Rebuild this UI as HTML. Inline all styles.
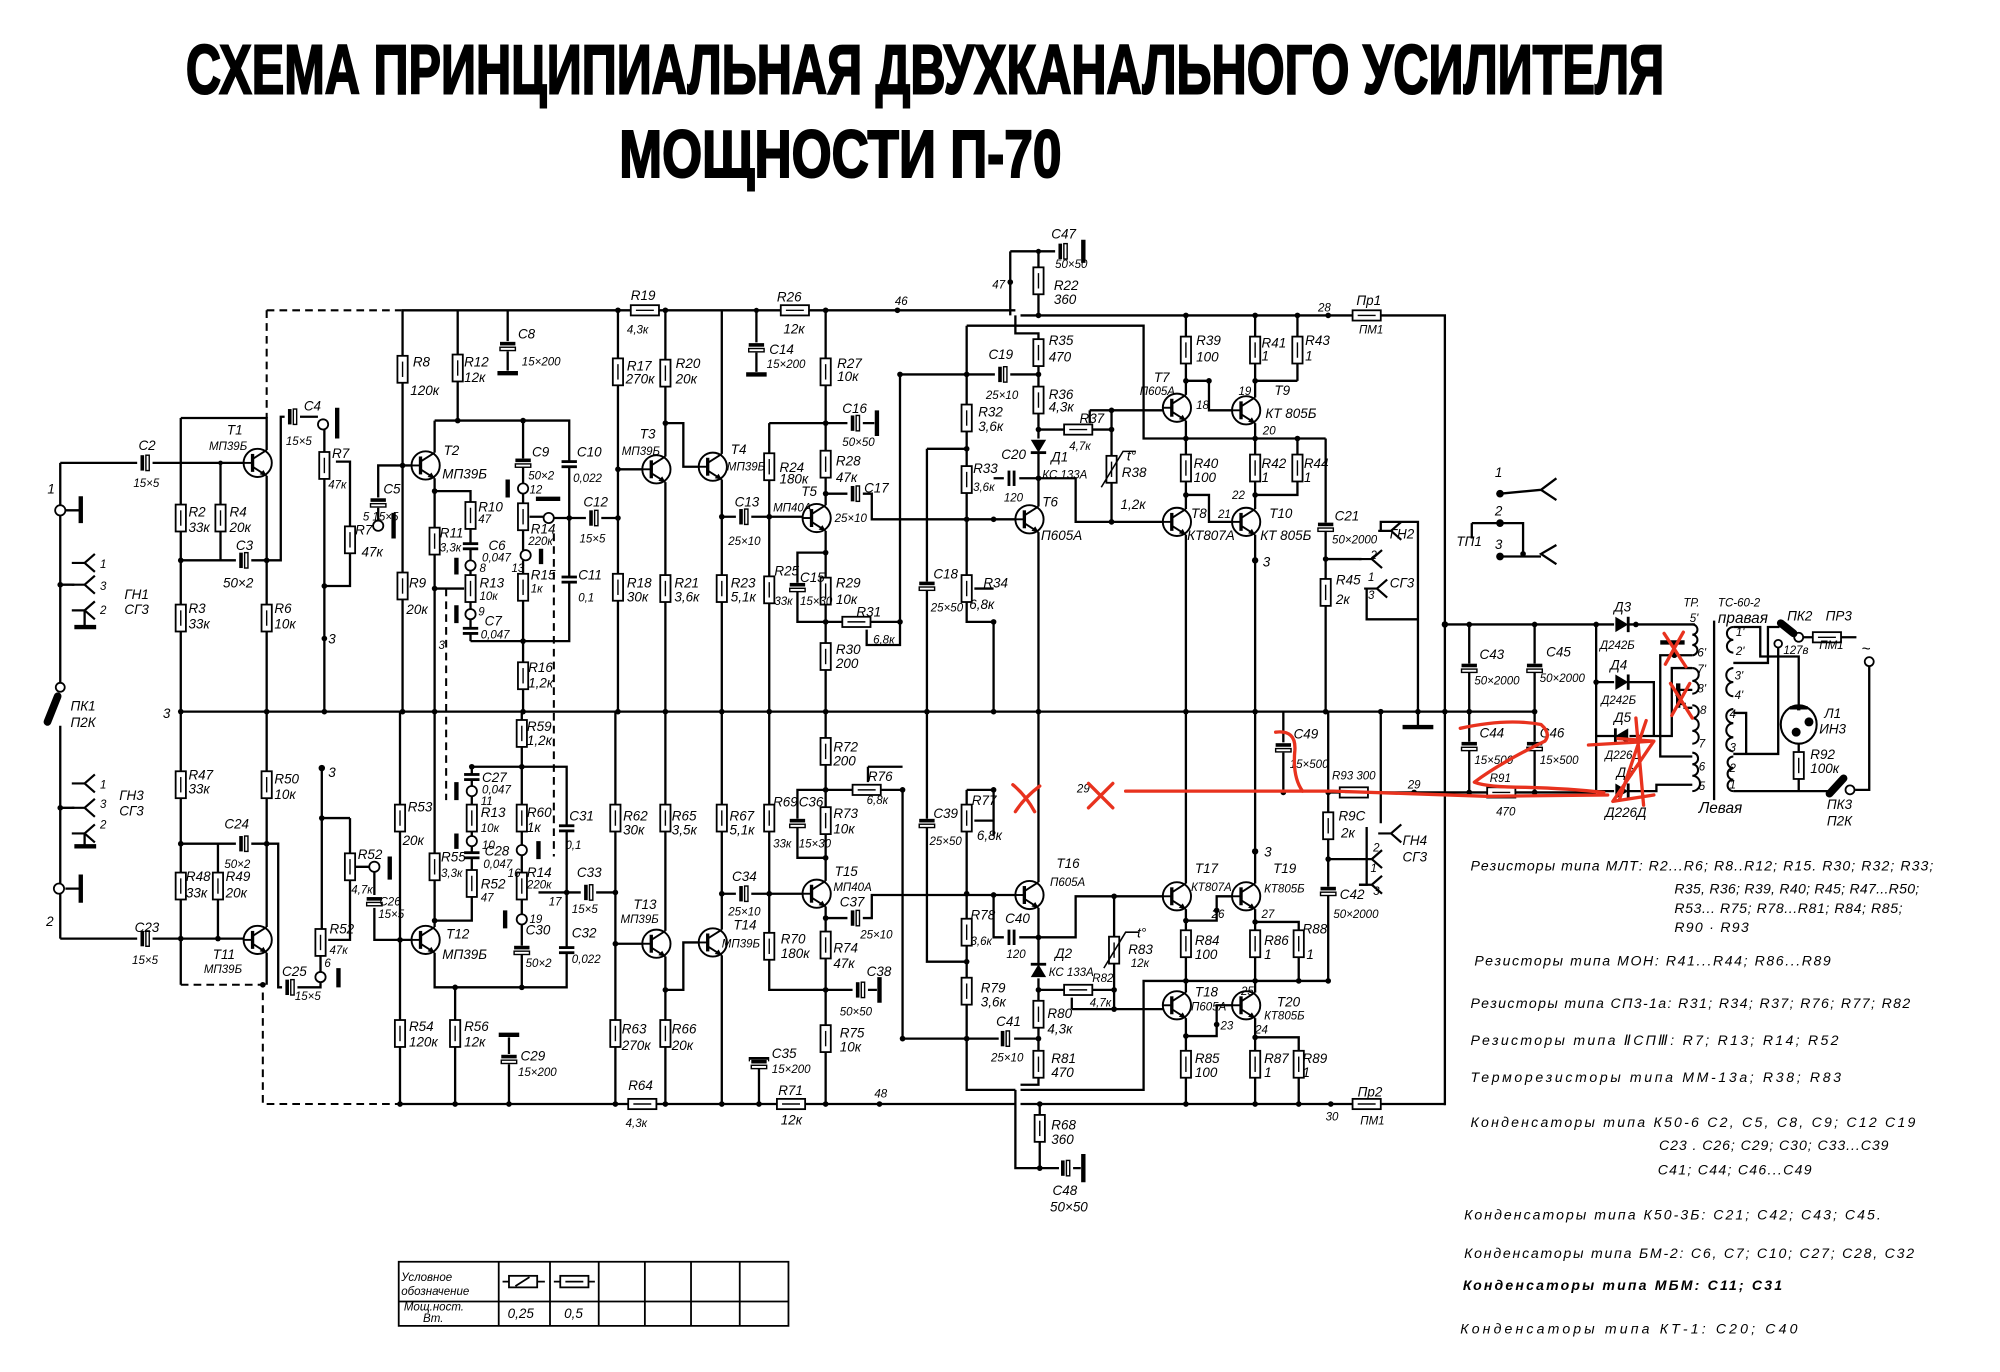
<!DOCTYPE html>
<html><head><meta charset="utf-8"><style>
html,body{margin:0;padding:0;background:#fff}
svg{display:block}
text{font-family:"Liberation Sans","DejaVu Sans",sans-serif;fill:#000}
.l{font-style:italic;font-size:10.5px}
.s{font-style:italic;font-size:9px}
.g{font-style:italic;font-size:11px}
.w path,.w line{fill:none;stroke:#000;stroke-width:1.8}
.d{fill:none;stroke:#000;stroke-width:1.6;stroke-dasharray:6 4}
.r{fill:none;stroke:#e8321e;stroke-width:2.6;stroke-linecap:round;stroke-linejoin:round}
.gb{stroke:#000;stroke-width:3.4;fill:none}
</style></head><body>
<svg width="2000" height="1372" viewBox="0 0 1560 1070" preserveAspectRatio="none" xmlns="http://www.w3.org/2000/svg">
<defs>
<g id="rv" stroke="#000" stroke-width="1.4"><rect x="-4" y="-10.5" width="8" height="21" fill="#fff"/><line x1="0" y1="-6" x2="0" y2="6" stroke-width="1.1"/></g>
<g id="rh" stroke="#000" stroke-width="1.4"><rect x="-11" y="-4" width="22" height="8" fill="#fff"/><line x1="-7" y1="0" x2="7" y2="0" stroke-width="1.1"/></g>
<g id="tr" stroke="#000" stroke-width="1.5" fill="none"><circle r="11" fill="#fff"/><line x1="-4" y1="-7" x2="-4" y2="7" stroke-width="2.6"/><line x1="-11" y1="0" x2="-4" y2="0"/><line x1="-4" y1="-3" x2="7" y2="-10"/><line x1="-4" y1="3" x2="7" y2="10"/><path d="M7 10 L1.5 9 L4.5 5.5 Z" fill="#000" stroke="none"/></g>
<g id="cv"><rect x="-7" y="-2.5" width="14" height="5" fill="#fff"/><line x1="-6" y1="-2" x2="6" y2="-2" stroke="#000" stroke-width="2.2"/><line x1="-6" y1="2" x2="6" y2="2" stroke="#000" stroke-width="2.2"/></g>
<g id="ce"><rect x="-7" y="-3.5" width="14" height="7" fill="#fff"/><rect x="-6" y="-3.4" width="12" height="2.8" fill="#000"/><rect x="-6" y="0.8" width="12" height="2.6" fill="#fff" stroke="#000" stroke-width="1.1"/></g>
<g id="ch"><rect x="-2.5" y="-7" width="5" height="14" fill="#fff"/><line x1="-2" y1="-6" x2="-2" y2="6" stroke="#000" stroke-width="2.2"/><line x1="2" y1="-6" x2="2" y2="6" stroke="#000" stroke-width="2.2"/></g>
<g id="che"><rect x="-3.5" y="-7" width="7" height="14" fill="#fff"/><rect x="-3.4" y="-6" width="2.8" height="12" fill="#000"/><rect x="0.8" y="-6" width="2.6" height="12" fill="#fff" stroke="#000" stroke-width="1.1"/></g>
<g id="dr"><rect x="-6" y="-6" width="12" height="12" fill="#fff"/><path d="M-5 -6 L-5 6 L5 0 Z" fill="#000"/><line x1="5" y1="-6" x2="5" y2="6" stroke="#000" stroke-width="2.2"/></g>
<g id="pin" fill="none" stroke="#000" stroke-width="1.7"><path d="M-10 0 H0 L8 -7 M0 0 L8 7"/></g>
<g id="cn" fill="#fff" stroke="#000" stroke-width="1.4"><circle r="4"/></g>
</defs>

<!-- TITLE -->
<text x="145" y="73" font-size="54" font-weight="bold" stroke="#000" stroke-width="1.6" textLength="1153" lengthAdjust="spacingAndGlyphs">СХЕМА ПРИНЦИПИАЛЬНАЯ ДВУХКАНАЛЬНОГО УСИЛИТЕЛЯ</text>
<text x="483" y="138" font-size="52" font-weight="bold" stroke="#000" stroke-width="1.6" textLength="345" lengthAdjust="spacingAndGlyphs">МОЩНОСТИ П-70</text>

<!-- WIRES -->
<g class="w">
<path d="M313 242 H792 M796 246 H1056 M1077 246 H1127 V862"/>
<path d="M788 196 V246 M788 196 H823 M810 196 V246 M792 246 V260 H810 V395"/>
<path d="M754 254 H892 V342 H1034"/>
<path d="M47 361 V532 M47 566 V732 M47 361 H107 M119 361 H190"/>
<path d="M51 398 H63 M51 693 H63 M47 456 H58 M47 630 H58"/>
<path d="M66 476 V489 M66 650 V659"/>
<path d="M141 326 H208 V351 M208 371 V555 M141 326 V555"/>
<path d="M172 361 V437 M141 437 H184 M196 437 H219 V325 H222 M234 325 H248"/>
<path d="M253 335 V555 M262 360 H273 V411 M273 432 V457 H253"/>
<path d="M314 363 H295 V388 M295 396 V406"/>
<path d="M314 242 V555 M314 363 H321"/>
<path d="M339 328 V353 M339 373 V555 M339 328 H444 V500 H367"/>
<path d="M357 242 V328 M396 242 V266 M396 274 V289"/>
<path d="M339 383 H367 V437 M367 445 V475 M367 483 V500 M339 459 H362"/>
<path d="M408 328 V377 M408 385 V429 M408 437 V555"/>
<path d="M413 403 H424 M432 404 H457 M469 404 H482"/>
<path d="M482 242 V555 M482 366 H501 M519 242 V356 M519 376 V555"/>
<path d="M519 330 H533 V364 H545 M563 242 V354 M563 374 V555"/>
<path d="M590 242 V267 M590 275 V290"/>
<path d="M563 403 H574 M586 403 H626 M600 330 V555 M600 330 H644"/>
<path d="M644 242 V394 M644 330 H661 M673 330 H682 M644 414 V555 M644 431 H622 V485 H644"/>
<path d="M644 485 H657 M679 485 H702 M702 292 V503 H676 V491"/>
<path d="M644 385 H661 M673 385 H680 V405 H792"/>
<path d="M723 350 H754 M723 350 V555"/>
<path d="M754 254 V485 H775 V555 M775 459 H760"/>
<path d="M702 292 H776 M788 292 H810"/>
<path d="M810 415 V555 M775 373 H783 M795 373 H810"/>
<path d="M810 335 H830 M852 335 H867 M850 320 V330 M850 320 H907 M867 320 V407"/>
<path d="M810 373 H839 V407 H907"/>
<path d="M925 246 V308 M925 328 V397 M925 417 V555"/>
<path d="M925 297 H943 V320 H961 M925 386 H943 V407 H961"/>
<path d="M979 246 V310 M979 297 H1012 M1012 246 V297 M979 330 V397 M1012 342 V386 H979 M979 417 V555"/>
<path d="M1034 342 V555 M1034 436 H1062"/>
<path d="M1077 414 V407 H1106 V567 M1066 459 V483 H1106"/>
<path d="M1170 385 L1202 382 M1214 373 L1202 382 L1214 390 M1148 408 H1188 V432 M1170 434 H1202 M1214 425 L1202 432 L1214 440 M1148 408 V420"/>
<path d="M141 555 H1197"/>
<!-- power supply -->
<path d="M1127 487 H1322 M1146 487 V618 M1197 487 V618 M1245 487 V617"/>
<path d="M1245 532 H1290 V574 M1245 574 H1304 V521 H1320 M1320 511 H1295 V590 H1320 M1306 511 V501 M1309 538 H1320 M1309 549 H1314 V552 H1320 M1245 617 H1292 V612 H1320"/>
<path d="M1352 489 H1373 V512 H1403 V550 M1352 517 H1379 V489 H1388 M1406 497 H1414 M1435 497 H1448 M1387 505 V588 H1352 M1352 556 H1362 V588"/>
<path d="M1403 579 V586 M1403 607 V617 M1352 617 H1426 M1447 616 H1458 V520"/>
<path d="M1337 484 V624" stroke-width="1.4"/>
<path d="M313 861 H792 M796 861 H1056 M1077 861 H1127"/>
<path d="M141 555 V768 M141 658 H184 M196 658 H217 V770 H220 M232 770 H250 V766"/>
<path d="M170 658 V732 M47 732 H107 M119 732 H190"/>
<path d="M208 555 V723 M208 743 V768"/>
<path d="M251 599 V725 M250 745 V758 M273 638 H251 M273 638 V666 M273 685 V733 H256 M277 676 H288 M292 680 V698 M292 708 V733 H321"/>
<path d="M312 555 V861 M339 555 V723 M339 743 V770 H442 V598 H368 M339 718 H368 V598"/>
<path d="M407 555 V770 M420 696 H453 M465 696 H480 M355 770 V861 M397 809 V822 M397 830 V861"/>
<path d="M480 555 V861 M480 736 H501 M519 555 V726 M519 746 V861 M519 772 H533 V735 H545 M563 555 V725 M563 745 V861"/>
<path d="M563 697 H574 M586 697 H626 M600 555 V772 H665 M677 772 H684"/>
<path d="M644 555 V687 M644 616 H622 V669 H644 M644 707 V861"/>
<path d="M644 616 H665 M687 616 H704 V810 H779 M677 598 H704 M677 598 V610"/>
<path d="M644 716 H661 M673 716 H680 V698 H792"/>
<path d="M723 555 V750 H754 M754 616 V850 H792 M796 850 H892 V765 H1036 M754 616 H775 V652 M775 640 H760"/>
<path d="M810 555 V688 M810 708 V846 H796 M775 698 V731 H783 M795 731 H810 M791 810 H810"/>
<path d="M810 731 H839 V699 H907 M869 699 V787 M810 772 H830 M852 772 H869 M836 787 V778 M836 787 H907"/>
<path d="M925 555 V689 M925 709 V774 M925 794 V861 M925 718 H949 V699 H961 M925 808 H949 V784 H961"/>
<path d="M979 555 V689 M979 709 V774 M979 719 H1013 V765 M979 794 V861 M979 809 H1013 V861"/>
<path d="M1036 555 V765 M1036 618 H1045 M1067 618 H1160 M1182 618 H1245 M1036 670 H1060 M1077 555 V642 M1066 645 V690 H1060"/>
<path d="M1001 555 V579 M1001 587 V618"/>
<path d="M792 850 V911 H826 M837 911 H843 M811 861 V911"/>
<path d="M592 828 V861"/>
</g>
<path class="d" d="M208 242 H313 M208 242 V326 M141 768 H205 V861 H313 M348 459 V624 M432 416 V668"/>
<path class="gb" d="M63 387 V408 M63 682 V704 M58 489 H75 M58 660 H75 M263 318 V342 M307 400 V420 M356 435 V448 M356 472 V486 M396 374 V388 M418 389 H437 M422 428 V440 M388 291 H404 M582 292 H598 M684 320 V340 M845 187 V205 M1094 567 H1118 M1295 501 H1314 M1309 533 V552 M264 755 V770 M304 668 V686 M356 610 V624 M356 650 V662 M420 656 V670 M394 710 V724 M389 807 H405 M686 762 V782 M584 826 H600 M845 900 V922"/>

<!-- COMPONENTS -->
<use href="#rv" x="141" y="404"/><use href="#rv" x="172" y="404"/><use href="#rv" x="141" y="482"/><use href="#rv" x="208" y="482"/>
<use href="#rv" x="253" y="363"/><use href="#rv" x="273" y="421"/>
<use href="#rv" x="314" y="288"/><use href="#rv" x="314" y="457"/><use href="#rv" x="357" y="287"/><use href="#rv" x="339" y="422"/>
<use href="#rv" x="367" y="402"/><use href="#rv" x="367" y="459"/><use href="#rv" x="408" y="403"/><use href="#rv" x="408" y="458"/><use href="#rv" x="408" y="527"/>
<use href="#rv" x="482" y="290"/><use href="#rv" x="482" y="458"/><use href="#rv" x="519" y="291"/><use href="#rv" x="519" y="459"/><use href="#rv" x="563" y="459"/>
<use href="#rv" x="600" y="364"/><use href="#rv" x="600" y="460"/><use href="#rv" x="644" y="290"/><use href="#rv" x="644" y="362"/><use href="#rv" x="644" y="461"/><use href="#rv" x="644" y="512"/>
<use href="#rv" x="754" y="326"/><use href="#rv" x="754" y="374"/><use href="#rv" x="754" y="459"/>
<use href="#rv" x="810" y="219"/><use href="#rv" x="810" y="275"/><use href="#rv" x="810" y="312"/>
<use href="#rv" x="925" y="273"/><use href="#rv" x="925" y="365"/><use href="#rv" x="979" y="273"/><use href="#rv" x="1012" y="273"/><use href="#rv" x="979" y="365"/><use href="#rv" x="1012" y="365"/>
<use href="#rv" x="1034" y="462"/>
<use href="#rv" x="141" y="612"/><use href="#rv" x="208" y="612"/><use href="#rv" x="141" y="691"/><use href="#rv" x="170" y="691"/>
<use href="#rv" x="273" y="676"/><use href="#rv" x="250" y="735"/>
<use href="#rv" x="312" y="638"/><use href="#rv" x="312" y="806"/><use href="#rv" x="339" y="676"/><use href="#rv" x="368" y="638"/><use href="#rv" x="368" y="689"/>
<use href="#rv" x="407" y="572"/><use href="#rv" x="407" y="638"/><use href="#rv" x="407" y="691"/><use href="#rv" x="355" y="806"/>
<use href="#rv" x="480" y="638"/><use href="#rv" x="480" y="806"/><use href="#rv" x="519" y="638"/><use href="#rv" x="519" y="806"/><use href="#rv" x="563" y="638"/>
<use href="#rv" x="600" y="638"/><use href="#rv" x="600" y="738"/><use href="#rv" x="644" y="586"/><use href="#rv" x="644" y="640"/><use href="#rv" x="644" y="737"/><use href="#rv" x="644" y="810"/>
<use href="#rv" x="754" y="638"/><use href="#rv" x="754" y="727"/><use href="#rv" x="754" y="773"/>
<use href="#rv" x="810" y="791"/><use href="#rv" x="810" y="830"/><use href="#rv" x="811" y="880"/>
<use href="#rv" x="925" y="736"/><use href="#rv" x="925" y="830"/><use href="#rv" x="979" y="736"/><use href="#rv" x="1013" y="736"/><use href="#rv" x="979" y="830"/><use href="#rv" x="1013" y="830"/>
<use href="#rv" x="1036" y="644"/><use href="#rv" x="1403" y="597"/>
<use href="#rv" x="867" y="366"/><path d="M859 380 L876 352 H886" stroke="#000" stroke-width="1.2" fill="none"/>
<use href="#rv" x="869" y="741"/><path d="M861 755 L878 727 H888" stroke="#000" stroke-width="1.2" fill="none"/>
<use href="#rh" x="503" y="242"/><use href="#rh" x="620" y="242"/><use href="#rh" x="668" y="485"/><use href="#rh" x="841" y="335"/>
<use href="#rh" x="501" y="861"/><use href="#rh" x="617" y="861"/><use href="#rh" x="676" y="616"/><use href="#rh" x="841" y="772"/>
<use href="#rh" x="1056" y="618"/><use href="#rh" x="1171" y="618"/>
<use href="#rh" x="1066" y="246"/><use href="#rh" x="1066" y="861"/><use href="#rh" x="1425" y="497"/>
<use href="#tr" x="201" y="361"/><use href="#tr" x="332" y="363"/><use href="#tr" x="512" y="366"/><use href="#tr" x="556" y="364"/><use href="#tr" x="637" y="404"/><use href="#tr" x="803" y="405"/>
<use href="#tr" x="918" y="318"/><use href="#tr" x="918" y="407"/><use href="#tr" x="972" y="320"/><use href="#tr" x="972" y="407"/>
<use href="#tr" x="201" y="733"/><use href="#tr" x="332" y="733"/><use href="#tr" x="512" y="736"/><use href="#tr" x="556" y="735"/><use href="#tr" x="637" y="697"/><use href="#tr" x="803" y="698"/>
<use href="#tr" x="918" y="699"/><use href="#tr" x="918" y="784"/><use href="#tr" x="972" y="699"/><use href="#tr" x="972" y="784"/>
<use href="#che" x="113" y="361"/><use href="#che" x="190" y="437"/><use href="#che" x="228" y="325"/><use href="#ce" x="295" y="392"/>
<use href="#ce" x="396" y="270"/><use href="#ce" x="408" y="361"/><use href="#cv" x="444" y="362"/><use href="#cv" x="367" y="426"/><use href="#cv" x="367" y="492"/><use href="#cv" x="444" y="452"/>
<use href="#che" x="463" y="404"/><use href="#ce" x="590" y="271"/><use href="#che" x="580" y="403"/><use href="#che" x="667" y="330"/><use href="#che" x="667" y="385"/>
<use href="#ce" x="622" y="458"/><use href="#ce" x="723" y="457"/><use href="#che" x="782" y="292"/><use href="#ch" x="789" y="373"/><use href="#che" x="829" y="196"/>
<use href="#ce" x="1034" y="411"/><use href="#ce" x="1146" y="521"/><use href="#ce" x="1197" y="521"/><use href="#ce" x="1146" y="582"/><use href="#ce" x="1197" y="582"/>
<use href="#che" x="113" y="732"/><use href="#che" x="190" y="658"/><use href="#che" x="226" y="770"/><use href="#ce" x="292" y="703"/>
<use href="#cv" x="368" y="606"/><use href="#cv" x="368" y="667"/><use href="#cv" x="442" y="646"/><use href="#cv" x="442" y="741"/><use href="#ce" x="407" y="741"/>
<use href="#che" x="459" y="696"/><use href="#ce" x="397" y="826"/><use href="#che" x="580" y="697"/><use href="#ce" x="622" y="642"/><use href="#che" x="667" y="716"/><use href="#che" x="671" y="772"/>
<use href="#ce" x="592" y="830"/><use href="#ce" x="723" y="642"/><use href="#ch" x="789" y="731"/><use href="#che" x="784" y="810"/><use href="#ce" x="1036" y="695"/><use href="#ce" x="1001" y="583"/><use href="#che" x="831" y="911"/>
<use href="#cn" x="47" y="398"/><use href="#cn" x="46" y="693"/><use href="#cn" x="252" y="331"/><use href="#cn" x="295" y="410"/><use href="#cn" x="367" y="441"/><use href="#cn" x="367" y="479"/>
<use href="#cn" x="408" y="381"/><use href="#cn" x="428" y="404"/><use href="#cn" x="410" y="433"/>
<use href="#cn" x="292" y="676"/><use href="#cn" x="250" y="762"/><use href="#cn" x="368" y="617"/><use href="#cn" x="368" y="656"/><use href="#cn" x="407" y="663"/><use href="#cn" x="407" y="717"/>
<use href="#pin" x="66" y="439"/><use href="#pin" x="66" y="456"/><use href="#pin" x="66" y="476"/>
<use href="#pin" x="66" y="611"/><use href="#pin" x="66" y="630"/><use href="#pin" x="66" y="650"/>
<use href="#pin" x="1070" y="436"/><use href="#pin" x="1074" y="459"/><use href="#pin" x="1085" y="414"/>
<use href="#pin" x="1070" y="670"/><use href="#pin" x="1085" y="650"/><use href="#pin" x="1070" y="690"/>
<use href="#dr" x="1265" y="487"/><use href="#dr" x="1265" y="532"/>
<use href="#dr" transform="translate(1265 574) scale(-1 1)"/><use href="#dr" x="1265" y="617"/>
<use href="#dr" transform="translate(810 348) rotate(90)"/><use href="#dr" transform="translate(810 757) rotate(-90)"/>
<circle cx="47" cy="536" r="3.5" fill="#fff" stroke="#000" stroke-width="1.4"/>
<path d="M45 543 L37 563" stroke="#000" stroke-width="6" stroke-linecap="round"/>
<circle cx="1403" cy="497" r="3.5" fill="#fff" stroke="#000" stroke-width="1.4"/>
<path d="M1389 486 L1399 494" stroke="#000" stroke-width="6" stroke-linecap="round"/>
<circle cx="1387" cy="502" r="3" fill="#fff" stroke="#000" stroke-width="1.4"/>
<circle cx="1443" cy="616" r="3.5" fill="#fff" stroke="#000" stroke-width="1.4"/>
<path d="M1427 619 L1438 607" stroke="#000" stroke-width="6" stroke-linecap="round"/>
<circle cx="1458" cy="516" r="3.5" fill="#fff" stroke="#000" stroke-width="1.4"/>
<ellipse cx="1403" cy="565" rx="14" ry="15" fill="#fff" stroke="#000" stroke-width="1.6"/>
<path d="M1396 552 H1410 M1403 550 V554" stroke="#000" stroke-width="2.6"/>
<circle cx="1401" cy="571" r="3.5"/><circle cx="1411" cy="563" r="3.5"/>
<g fill="none" stroke="#000" stroke-width="1.6">
<path d="M1320 487 a4 4 0 0 1 0 8 a4 4 0 0 1 0 8 a4 4 0 0 1 0 8"/>
<path d="M1320 521 a5 5 0 0 1 0 10 a5 5 0 0 1 0 10"/>
<path d="M1320 550 a5 5 0 0 1 0 10 a5 5 0 0 1 0 10 a5 5 0 0 1 0 10"/>
<path d="M1320 587 a4.5 4.5 0 0 1 0 9 a4.5 4.5 0 0 1 0 9 a6 6 0 0 1 0 12"/>
<path d="M1352 489 a5 5 0 0 0 0 10 a5 5 0 0 0 0 10"/>
<path d="M1352 521 a5.5 5.5 0 0 0 0 11 a5.5 5.5 0 0 0 0 11"/>
<path d="M1352 553 a5.5 5.5 0 0 0 0 11 a5.5 5.5 0 0 0 0 11 a5.5 5.5 0 0 0 0 11"/>
<path d="M1352 590 a4.5 4.5 0 0 0 0 9 a4.5 4.5 0 0 0 0 9 a4.5 4.5 0 0 0 0 9"/>
</g>
<g fill="#000">
<circle cx="482" cy="242" r="2.2"/><circle cx="519" cy="242" r="2.2"/><circle cx="590" cy="242" r="2"/><circle cx="644" cy="242" r="2.2"/><circle cx="700" cy="242" r="2.2"/><circle cx="810" cy="246" r="2.2"/><circle cx="925" cy="246" r="2.2"/><circle cx="979" cy="246" r="2.2"/><circle cx="1012" cy="246" r="2.2"/><circle cx="1036" cy="246" r="2.2"/><circle cx="788" cy="220" r="2.2"/><circle cx="810" cy="196" r="2"/>
<circle cx="357" cy="328" r="2.2"/><circle cx="408" cy="328" r="2.2"/><circle cx="519" cy="330" r="2.2"/><circle cx="644" cy="330" r="2.2"/><circle cx="644" cy="385" r="2.2"/><circle cx="644" cy="431" r="2.2"/><circle cx="644" cy="485" r="2.2"/><circle cx="600" cy="403" r="2.2"/><circle cx="563" cy="403" r="2.2"/>
<circle cx="482" cy="366" r="2.2"/><circle cx="482" cy="404" r="2.2"/><circle cx="444" cy="404" r="2.2"/><circle cx="408" cy="500" r="2.2"/><circle cx="339" cy="383" r="2.2"/><circle cx="339" cy="459" r="2.2"/><circle cx="208" cy="437" r="2.2"/><circle cx="141" cy="437" r="2.2"/><circle cx="253" cy="457" r="2.2"/><circle cx="253" cy="498" r="2.2"/><circle cx="314" cy="363" r="2.2"/>
<circle cx="702" cy="292" r="2.2"/><circle cx="754" cy="292" r="2.2"/><circle cx="754" cy="350" r="2.2"/><circle cx="754" cy="405" r="2.2"/><circle cx="775" cy="405" r="2.2"/><circle cx="702" cy="485" r="2.2"/><circle cx="775" cy="485" r="2.2"/>
<circle cx="810" cy="292" r="2.2"/><circle cx="810" cy="335" r="2.2"/><circle cx="810" cy="373" r="2.2"/><circle cx="867" cy="320" r="2.2"/><circle cx="867" cy="335" r="2.2"/><circle cx="867" cy="407" r="2.2"/>
<circle cx="925" cy="297" r="2.2"/><circle cx="943" cy="297" r="2.2"/><circle cx="925" cy="342" r="2.2"/><circle cx="925" cy="386" r="2.2"/><circle cx="979" cy="297" r="2.2"/><circle cx="979" cy="342" r="2.2"/><circle cx="979" cy="386" r="2.2"/><circle cx="1012" cy="342" r="2.2"/><circle cx="979" cy="437" r="2.5"/><circle cx="1034" cy="436" r="2.2"/>
<circle cx="1170" cy="385" r="3"/><circle cx="1170" cy="408" r="3"/><circle cx="1170" cy="434" r="3"/><circle cx="1188" cy="432" r="2.2"/>
<circle cx="1127" cy="487" r="2.5"/><circle cx="1146" cy="487" r="2.2"/><circle cx="1197" cy="487" r="2.2"/><circle cx="1245" cy="487" r="2.2"/><circle cx="1276" cy="487" r="2.2"/><circle cx="1245" cy="532" r="2.2"/><circle cx="1146" cy="555" r="2.2"/><circle cx="1197" cy="555" r="2.2"/><circle cx="1146" cy="618" r="2.2"/><circle cx="1197" cy="618" r="2.2"/><circle cx="1103" cy="618" r="2.2"/><circle cx="1036" cy="618" r="2.2"/><circle cx="1001" cy="618" r="2.2"/><circle cx="1306" cy="511" r="2.2"/><circle cx="1309" cy="542" r="2.2"/>
<circle cx="141" cy="555" r="2.2"/><circle cx="208" cy="555" r="2.2"/><circle cx="253" cy="555" r="2.2"/><circle cx="314" cy="555" r="2.2"/><circle cx="339" cy="555" r="2.2"/><circle cx="408" cy="555" r="2.2"/><circle cx="482" cy="555" r="2.2"/><circle cx="519" cy="555" r="2.2"/><circle cx="563" cy="555" r="2.2"/><circle cx="600" cy="555" r="2.2"/><circle cx="644" cy="555" r="2.2"/><circle cx="723" cy="555" r="2.2"/><circle cx="775" cy="555" r="2.2"/><circle cx="810" cy="555" r="2.2"/><circle cx="925" cy="555" r="2.2"/><circle cx="979" cy="555" r="2.2"/><circle cx="1034" cy="555" r="2.2"/><circle cx="1077" cy="555" r="2.2"/><circle cx="1106" cy="555" r="2.2"/><circle cx="1127" cy="555" r="2.2"/>
<circle cx="47" cy="456" r="2.2"/><circle cx="47" cy="630" r="2.2"/><circle cx="172" cy="361" r="1.8"/>
<circle cx="208" cy="658" r="2.2"/><circle cx="141" cy="658" r="2.2"/><circle cx="141" cy="732" r="2.2"/><circle cx="170" cy="732" r="2.2"/><circle cx="251" cy="599" r="2.5"/><circle cx="251" cy="638" r="2.2"/><circle cx="312" cy="733" r="2.2"/><circle cx="339" cy="718" r="2.2"/><circle cx="368" cy="598" r="2.2"/><circle cx="407" cy="598" r="2.2"/><circle cx="407" cy="770" r="2.2"/><circle cx="355" cy="770" r="2.2"/><circle cx="442" cy="696" r="2.2"/><circle cx="480" cy="696" r="2.2"/><circle cx="480" cy="736" r="2.2"/><circle cx="519" cy="772" r="2.2"/>
<circle cx="563" cy="697" r="2.2"/><circle cx="600" cy="697" r="2.2"/><circle cx="644" cy="616" r="2.2"/><circle cx="644" cy="669" r="2.2"/><circle cx="644" cy="716" r="2.2"/><circle cx="644" cy="772" r="2.2"/><circle cx="704" cy="616" r="2.2"/><circle cx="704" cy="810" r="2.2"/><circle cx="754" cy="697" r="2.2"/><circle cx="775" cy="698" r="2.2"/><circle cx="754" cy="750" r="2.2"/><circle cx="754" cy="810" r="2.2"/><circle cx="775" cy="616" r="2.2"/>
<circle cx="810" cy="731" r="2.2"/><circle cx="810" cy="772" r="2.2"/><circle cx="810" cy="810" r="2.2"/><circle cx="869" cy="699" r="2.2"/><circle cx="869" cy="772" r="2.2"/><circle cx="869" cy="787" r="2.2"/>
<circle cx="925" cy="718" r="2.2"/><circle cx="949" cy="710" r="2.2"/><circle cx="925" cy="765" r="2.2"/><circle cx="925" cy="808" r="2.2"/><circle cx="949" cy="799" r="2.2"/><circle cx="979" cy="664" r="2.5"/><circle cx="979" cy="719" r="2.2"/><circle cx="979" cy="765" r="2.2"/><circle cx="979" cy="809" r="2.2"/><circle cx="1013" cy="765" r="2.2"/><circle cx="1036" cy="670" r="2.2"/><circle cx="1036" cy="765" r="2.2"/>
<circle cx="480" cy="861" r="2.2"/><circle cx="519" cy="861" r="2.2"/><circle cx="563" cy="861" r="2.2"/><circle cx="592" cy="861" r="2.2"/><circle cx="644" cy="861" r="2.2"/><circle cx="686" cy="861" r="2.2"/><circle cx="811" cy="861" r="2.2"/><circle cx="925" cy="861" r="2.2"/><circle cx="979" cy="861" r="2.2"/><circle cx="1013" cy="861" r="2.2"/><circle cx="1038" cy="861" r="2.2"/><circle cx="355" cy="861" r="2.2"/><circle cx="397" cy="861" r="2.2"/><circle cx="312" cy="861" r="2.2"/><circle cx="205" cy="768" r="2.2"/><circle cx="811" cy="911" r="2.2"/>
</g>

<!-- LABELS top channel -->
<g class="l">
<text x="108" y="351">C2</text><text x="104" y="380" class="s">15×5</text>
<text x="177" y="339">T1</text><text x="163" y="351" class="s">МП39Б</text>
<text x="237" y="320">C4</text><text x="223" y="347" class="s">15×5</text>
<text x="259" y="357">R7</text><text x="256" y="381" class="s">47к</text>
<text x="299" y="385">C5</text><text x="283" y="406" class="s">5 15×5</text>
<text x="277" y="417">R7</text><text x="282" y="434">47к</text>
<text x="147" y="403">R2</text><text x="147" y="415">33к</text><text x="179" y="403">R4</text><text x="179" y="415">20к</text>
<text x="184" y="429">C3</text><text x="174" y="458">50×2</text>
<text x="147" y="478">R3</text><text x="147" y="490">33к</text><text x="214" y="478">R6</text><text x="214" y="490">10к</text>
<text x="256" y="502">3</text><text x="127" y="560">3</text>
<text x="78" y="443" class="s">1</text><text x="78" y="460" class="s">3</text><text x="78" y="479" class="s">2</text>
<text x="97" y="467">ГН1</text><text x="97" y="479">СГ3</text>
<text x="37" y="385">1</text>
<text x="55" y="554">ПК1</text><text x="55" y="567">П2К</text>
<text x="322" y="286">R8</text><text x="320" y="308">120к</text>
<text x="362" y="286">R12</text><text x="362" y="298">12к</text>
<text x="404" y="264">C8</text><text x="407" y="285" class="s">15×200</text>
<text x="346" y="355">T2</text><text x="345" y="373">МП39Б</text>
<text x="415" y="356">C9</text><text x="412" y="374" class="s">50×2</text>
<text x="450" y="356">C10</text><text x="447" y="376" class="s">0,022</text>
<text x="413" y="385" class="s">12</text>
<text x="373" y="399">R10</text><text x="373" y="408" class="s">47</text>
<text x="343" y="419">R11</text><text x="343" y="430" class="s">3,3к</text>
<text x="381" y="429">C6</text><text x="376" y="438" class="s">0,047</text>
<text x="414" y="416">R14</text><text x="412" y="425" class="s">220к</text>
<text x="455" y="395">C12</text><text x="452" y="423" class="s">15×5</text>
<text x="374" y="446" class="s">8</text><text x="399" y="446" class="s">13</text>
<text x="374" y="458">R13</text><text x="374" y="468" class="s">10к</text>
<text x="414" y="452">R15</text><text x="414" y="462" class="s">1к</text>
<text x="451" y="452">C11</text><text x="451" y="469" class="s">0,1</text>
<text x="373" y="480" class="s">9</text><text x="378" y="488">C7</text><text x="375" y="498" class="s">0,047</text>
<text x="319" y="458">R9</text><text x="317" y="479">20к</text>
<text x="342" y="506" class="s">3</text>
<text x="412" y="524">R16</text><text x="412" y="536">1,2к</text>
<text x="492" y="234">R19</text><text x="489" y="260" class="s">4,3к</text>
<text x="489" y="289">R17</text><text x="488" y="299">270к</text>
<text x="527" y="287">R20</text><text x="527" y="299">20к</text>
<text x="499" y="342">T3</text><text x="485" y="355" class="s">МП39Б</text>
<text x="489" y="458">R18</text><text x="489" y="469">30к</text><text x="526" y="458">R21</text><text x="526" y="469">3,6к</text>
<text x="570" y="354">T4</text><text x="567" y="367" class="s">МП39Б</text>
<text x="570" y="458">R23</text><text x="570" y="469">5,1к</text>
<text x="606" y="235">R26</text><text x="611" y="260">12к</text>
<text x="600" y="276">C14</text><text x="598" y="287" class="s">15×200</text>
<text x="653" y="287">R27</text><text x="653" y="297">10к</text>
<text x="698" y="238" class="s">46</text>
<text x="657" y="322">C16</text><text x="657" y="348" class="s">50×50</text>
<text x="608" y="368">R24</text><text x="608" y="377">180к</text>
<text x="652" y="363">R28</text><text x="652" y="376">47к</text>
<text x="674" y="384">C17</text>
<text x="625" y="387">T5</text><text x="603" y="399" class="s">МП40А</text>
<text x="651" y="407" class="s">25×10</text>
<text x="573" y="395">C13</text><text x="568" y="425" class="s">25×10</text>
<text x="604" y="449">R25</text><text x="604" y="472" class="s">33к</text>
<text x="624" y="454">C15</text><text x="624" y="472" class="s">15×30</text>
<text x="652" y="458">R29</text><text x="652" y="471">10к</text>
<text x="668" y="481">R31</text><text x="681" y="502" class="s">6,8к</text>
<text x="652" y="510">R30</text><text x="652" y="521">200</text>
<text x="728" y="451">C18</text><text x="726" y="477" class="s">25×50</text>
<text x="771" y="280">C19</text><text x="769" y="311" class="s">25×10</text>
<text x="763" y="325">R32</text><text x="763" y="336">3,6к</text>
<text x="759" y="369">R33</text><text x="759" y="383" class="s">3,6к</text>
<text x="767" y="458">R34</text><text x="756" y="475">6,8к</text>
<text x="820" y="186">C47</text><text x="823" y="209" class="s">50×50</text><text x="822" y="226">R22</text><text x="822" y="237">360</text><text x="774" y="225" class="s">47</text>
<text x="818" y="269">R35</text><text x="818" y="282">470</text>
<text x="818" y="311">R36</text><text x="818" y="321">4,3к</text>
<text x="842" y="330">R37</text><text x="834" y="351" class="s">4,7к</text>
<text x="781" y="358">C20</text><text x="783" y="391" class="s">120</text>
<text x="820" y="360">Д1</text><text x="813" y="373" class="s">КС 133А</text>
<text x="813" y="395">T6</text><text x="812" y="421">П605А</text>
<text x="879" y="359">t°</text><text x="875" y="372">R38</text><text x="874" y="397">1,2к</text>
<text x="933" y="269">R39</text><text x="933" y="282">100</text>
<text x="900" y="298">T7</text><text x="889" y="308" class="s">П605А</text>
<text x="933" y="319" class="s">18</text>
<text x="984" y="271">R41</text><text x="984" y="281">1</text><text x="1018" y="269">R43</text><text x="1018" y="281">1</text>
<text x="966" y="308" class="s">19</text><text x="994" y="308">T9</text>
<text x="987" y="326">КТ 805Б</text><text x="985" y="339" class="s">20</text>
<text x="931" y="365">R40</text><text x="931" y="376">100</text>
<text x="984" y="365">R42</text><text x="984" y="376">1</text><text x="1017" y="365">R44</text><text x="1017" y="376">1</text>
<text x="961" y="389" class="s">22</text>
<text x="929" y="404">T8</text><text x="926" y="421">КТ807А</text>
<text x="950" y="404" class="s">21</text><text x="990" y="404">T10</text><text x="983" y="421">КТ 805Б</text>
<text x="985" y="442">3</text>
<text x="1041" y="406">C21</text><text x="1039" y="424" class="s">50×2000</text>
<text x="1028" y="243" class="s">28</text>
<text x="1058" y="238">Пр1</text><text x="1060" y="260" class="s">ПМ1</text>
<text x="1084" y="420">ГН2</text><text x="1069" y="436" class="s">2</text><text x="1067" y="453" class="s">1</text><text x="1084" y="458">СГ3</text><text x="1067" y="467" class="s">3</text>
<text x="1042" y="456">R45</text><text x="1042" y="471">2к</text>
<text x="1136" y="426">ТП1</text><text x="1166" y="372">1</text><text x="1166" y="402">2</text><text x="1166" y="428">3</text>
<text x="1259" y="477">Д3</text><text x="1248" y="506" class="s">Д242Б</text>
<text x="1256" y="522">Д4</text><text x="1249" y="549" class="s">Д242Б</text>
<text x="1154" y="514">C43</text><text x="1150" y="534" class="s">50×2000</text>
<text x="1206" y="512">C45</text><text x="1201" y="532" class="s">50×2000</text>
<text x="1313" y="473" class="s">ТР.</text><text x="1340" y="473" class="s">ТС-60-2</text>
<text x="1340" y="486" font-size="12">правая</text>
<text x="1394" y="484">ПК2</text><text x="1424" y="484">ПР3</text><text x="1419" y="506" class="s">ПМ1</text><text x="1391" y="510" class="s">127в</text>
<text x="1452" y="510" font-size="12">~</text>
<text x="1154" y="575">C44</text><text x="1150" y="596" class="s">15×500</text>
<text x="1201" y="575">C46</text><text x="1201" y="596" class="s">15×500</text>
<text x="1259" y="563">Д5</text><text x="1252" y="592" class="s">Д226Д</text>
<text x="1261" y="606">Д6</text><text x="1252" y="637">Д226Д</text>
<text x="1039" y="608" class="s">R93 300</text><text x="1098" y="615" class="s">29</text>
<text x="1162" y="610" class="s">R91</text><text x="1167" y="636" class="s">470</text>
<text x="1044" y="640">R9C</text><text x="1046" y="653">2к</text>
<text x="1071" y="664" class="s">2</text><text x="1094" y="659">ГН4</text><text x="1094" y="672">СГ3</text><text x="1069" y="680" class="s">1</text><text x="1071" y="698" class="s">3</text>
<text x="1045" y="701">C42</text><text x="1040" y="716" class="s">50×2000</text>
<text x="1325" y="634" font-size="12">Левая</text>
<text x="1423" y="560">Л1</text><text x="1419" y="572">ИН3</text>
<text x="1412" y="592">R92</text><text x="1412" y="603">100к</text>
<text x="1425" y="631">ПК3</text><text x="1425" y="644">П2К</text>
<text x="1318" y="485" class="s">5'</text><text x="1324" y="512" class="s">6'</text><text x="1324" y="525" class="s">7'</text><text x="1324" y="540" class="s">8'</text><text x="1326" y="557" class="s">8</text><text x="1325" y="583" class="s">7</text><text x="1325" y="601" class="s">6</text><text x="1325" y="616" class="s">5</text>
<text x="1354" y="496" class="s">1'</text><text x="1354" y="511" class="s">2'</text><text x="1353" y="530" class="s">3'</text><text x="1353" y="545" class="s">4'</text><text x="1349" y="560" class="s">4</text><text x="1349" y="586" class="s">3</text><text x="1349" y="602" class="s">2</text><text x="1349" y="615" class="s">1</text>
</g>
<!-- LABELS bottom channel -->
<g class="l">
<text x="147" y="608">R47</text><text x="147" y="619">33к</text><text x="214" y="611">R50</text><text x="214" y="623">10к</text>
<text x="256" y="606">3</text>
<text x="78" y="615" class="s">1</text><text x="78" y="630" class="s">3</text><text x="78" y="646" class="s">2</text>
<text x="93" y="624">ГН3</text><text x="93" y="636">СГ3</text>
<text x="175" y="646">C24</text><text x="175" y="677" class="s">50×2</text>
<text x="145" y="687">R48</text><text x="145" y="700">33к</text><text x="176" y="687">R49</text><text x="176" y="700">20к</text>
<text x="105" y="727">C23</text><text x="103" y="752" class="s">15×5</text>
<text x="166" y="748">T11</text><text x="159" y="759" class="s">МП39Б</text>
<text x="220" y="761">C25</text><text x="230" y="780" class="s">15×5</text>
<text x="279" y="670">R52</text><text x="274" y="697" class="s">4,7к</text><text x="296" y="706" class="s">C26</text><text x="295" y="716" class="s">15×5</text>
<text x="257" y="728">R52</text><text x="257" y="744" class="s">47к</text><text x="253" y="754" class="s">6</text>
<text x="318" y="633">R53</text><text x="314" y="659">20к</text>
<text x="344" y="672">R55</text><text x="344" y="684" class="s">3,3к</text>
<text x="348" y="732">T12</text><text x="345" y="748">МП39Б</text>
<text x="376" y="610">C27</text><text x="376" y="619" class="s">0,047</text><text x="375" y="628" class="s">11</text>
<text x="375" y="637">R13</text><text x="375" y="649" class="s">10к</text>
<text x="376" y="662" class="s">10</text><text x="378" y="667">C28</text><text x="377" y="677" class="s">0,047</text>
<text x="375" y="693">R52</text><text x="375" y="703" class="s">47</text>
<text x="411" y="570">R59</text><text x="411" y="581">1,2к</text>
<text x="411" y="637">R60</text><text x="411" y="649">1к</text>
<text x="444" y="640">C31</text><text x="441" y="662" class="s">0,1</text>
<text x="396" y="684" class="s">16</text><text x="411" y="684">R14</text><text x="411" y="693" class="s">220к</text>
<text x="450" y="684">C33</text><text x="446" y="712" class="s">15×5</text><text x="428" y="706" class="s">17</text>
<text x="413" y="720" class="s">19</text><text x="410" y="729">C30</text><text x="410" y="754" class="s">50×2</text>
<text x="446" y="731">C32</text><text x="446" y="751" class="s">0,022</text>
<text x="319" y="804">R54</text><text x="319" y="816">120к</text>
<text x="362" y="804">R56</text><text x="362" y="816">12к</text>
<text x="406" y="827">C29</text><text x="404" y="839" class="s">15×200</text>
<text x="486" y="640">R62</text><text x="486" y="651">30к</text><text x="524" y="640">R65</text><text x="524" y="651">3,5к</text>
<text x="494" y="709">T13</text><text x="484" y="720" class="s">МП39Б</text>
<text x="485" y="806">R63</text><text x="485" y="819">270к</text><text x="524" y="806">R66</text><text x="524" y="819">20к</text>
<text x="490" y="850">R64</text><text x="488" y="879" class="s">4,3к</text>
<text x="36" y="722">2</text>
<text x="569" y="640">R67</text><text x="569" y="651">5,1к</text>
<text x="603" y="629">R69</text><text x="603" y="661" class="s">33к</text>
<text x="623" y="629">C36</text><text x="623" y="661" class="s">15×30</text>
<text x="650" y="586">R72</text><text x="650" y="597">200</text>
<text x="677" y="609">R76</text><text x="676" y="627" class="s">6,8к</text>
<text x="650" y="638">R73</text><text x="650" y="650">10к</text>
<text x="728" y="638">C39</text><text x="725" y="659" class="s">25×50</text>
<text x="758" y="628">R77</text><text x="762" y="655">6,8к</text>
<text x="571" y="687">C34</text><text x="568" y="714" class="s">25×10</text>
<text x="651" y="683">T15</text><text x="650" y="695" class="s">МП40А</text><text x="655" y="707">C37</text><text x="671" y="732" class="s">25×10</text>
<text x="572" y="725">T14</text><text x="563" y="739" class="s">МП39Б</text>
<text x="609" y="736">R70</text><text x="609" y="747">180к</text>
<text x="650" y="743">R74</text><text x="650" y="755">47к</text><text x="676" y="761">C38</text><text x="655" y="792" class="s">50×50</text>
<text x="602" y="825">C35</text><text x="602" y="837" class="s">15×200</text>
<text x="655" y="809">R75</text><text x="655" y="820">10к</text>
<text x="607" y="854">R71</text><text x="609" y="877">12к</text>
<text x="682" y="856" class="s">48</text>
<text x="824" y="677">T16</text><text x="819" y="691" class="s">П605А</text>
<text x="757" y="717">R78</text><text x="757" y="737" class="s">3,6к</text>
<text x="784" y="720">C40</text><text x="785" y="747" class="s">120</text>
<text x="823" y="747">Д2</text><text x="818" y="761" class="s">КС 133А</text><text x="852" y="766" class="s">R82</text>
<text x="887" y="731">t°</text><text x="880" y="744">R83</text><text x="882" y="754" class="s">12к</text>
<text x="765" y="774">R79</text><text x="765" y="785">3,6к</text>
<text x="850" y="785" class="s">4,7к</text>
<text x="817" y="794">R80</text><text x="817" y="806">4,3к</text>
<text x="777" y="800">C41</text><text x="773" y="828" class="s">25×10</text>
<text x="820" y="829">R81</text><text x="820" y="840">470</text>
<text x="820" y="881">R68</text><text x="820" y="892">360</text>
<text x="821" y="932">C48</text><text x="819" y="945">50×50</text>
<text x="932" y="681">T17</text><text x="929" y="695" class="s">КТ807А</text>
<text x="993" y="681">T19</text><text x="986" y="696" class="s">КТ805Б</text>
<text x="986" y="668">3</text>
<text x="945" y="716" class="s">26</text><text x="984" y="716" class="s">27</text>
<text x="932" y="737">R84</text><text x="932" y="748">100</text>
<text x="986" y="737">R86</text><text x="986" y="748">1</text><text x="1016" y="728">R88</text><text x="1019" y="748">1</text>
<text x="932" y="777">T18</text><text x="929" y="788" class="s">П605А</text>
<text x="968" y="776" class="s">25</text><text x="996" y="785">T20</text><text x="986" y="795" class="s">КТ805Б</text><text x="979" y="806" class="s">24</text><text x="952" y="803" class="s">23</text>
<text x="932" y="829">R85</text><text x="932" y="840">100</text>
<text x="986" y="829">R87</text><text x="986" y="840">1</text><text x="1016" y="829">R89</text><text x="1016" y="840">1</text>
<text x="1034" y="874" class="s">30</text>
<text x="1059" y="855">Пр2</text><text x="1061" y="877" class="s">ПМ1</text>
<text x="1009" y="576">C49</text><text x="1006" y="599" class="s">15×500</text>
<text x="840" y="618" class="s">29</text>
</g>

<!-- LEGEND -->
<g class="g">
<text x="1147" y="679" textLength="361" lengthAdjust="spacing">Резисторы   типа МЛТ:  R2...R6; R8..R12; R15.  R30; R32; R33;</text>
<text x="1306" y="697" textLength="191" lengthAdjust="spacing">R35, R36; R39, R40; R45; R47...R50;</text>
<text x="1306" y="712" textLength="178" lengthAdjust="spacing">R53... R75; R78...R81; R84; R85;</text>
<text x="1306" y="727" textLength="58" lengthAdjust="spacing">R90 · R93</text>
<text x="1150" y="753" textLength="278" lengthAdjust="spacing">Резисторы  типа   МОН: R41...R44; R86...R89</text>
<text x="1147" y="786" textLength="343" lengthAdjust="spacing">Резисторы  типа   СП3-1а:  R31; R34; R37; R76; R77; R82</text>
<text x="1147" y="815" textLength="287" lengthAdjust="spacing">Резисторы  типа ⅡСПⅢ: R7; R13; R14; R52</text>
<text x="1147" y="844" textLength="289" lengthAdjust="spacing">Терморезисторы   типа  ММ-13а; R38; R83</text>
<text x="1147" y="879" textLength="347" lengthAdjust="spacing">Конденсаторы  типа  К50-6   C2, C5, C8, C9; C12  C19</text>
<text x="1294" y="897" textLength="179" lengthAdjust="spacing">C23 . C26; C29; C30; C33...C39</text>
<text x="1293" y="916" textLength="120" lengthAdjust="spacing">C41;  C44; C46...C49</text>
<text x="1142" y="951" textLength="325" lengthAdjust="spacing">Конденсаторы  типа  К50-3Б: C21; C42; C43; C45.</text>
<text x="1142" y="981" textLength="351" lengthAdjust="spacing">Конденсаторы  типа  БМ-2:  C6, C7; C10; C27; C28, C32</text>
<text x="1141" y="1006" textLength="249" lengthAdjust="spacing" font-weight="bold">Конденсаторы  типа  МБМ: C11; C31</text>
<text x="1139" y="1040" textLength="263" lengthAdjust="spacing">Конденсаторы  типа  КТ-1:  C20; C40</text>
</g>

<!-- TABLE -->
<g fill="none" stroke="#000" stroke-width="1.4">
<path d="M311 984 H615 V1034 H311 Z M311 1015 H615 M389 984 V1034 M429 984 V1034 M467 984 V1034 M503 984 V1034 M539 984 V1034 M577 984 V1034"/>
<rect x="397" y="995" width="22" height="9"/><path d="M392 999.5 H397 M419 999.5 H425 M402 1003 L413 996"/>
<rect x="437" y="995" width="22" height="9"/><path d="M432 999.5 H437 M459 999.5 H464 M441 999.5 H455"/>
</g>
<g class="l">
<text x="313" y="999" class="s">Условное</text><text x="313" y="1010" class="s">обозначение</text>
<text x="315" y="1022" class="s">Мощ.ност.</text><text x="330" y="1031" class="s">Вт.</text>
<text x="396" y="1028">0,25</text><text x="440" y="1028">0,5</text>
</g>

<!-- RED ANNOTATIONS -->
<g class="r">
<path d="M878 617 L1000 617 L1040 617 L1100 619 L1160 621 L1254 620"/>
<path d="M790 612 Q800 620 807 633 M792 633 Q799 622 811 613"/>
<path d="M849 611 L868 630 M849 630 L868 611"/>
<path d="M995 571 Q1011 569 1010 585 Q1008 606 1016 617"/>
<path d="M1139 568 Q1175 560 1202 565 Q1210 572 1205 578 Q1170 595 1150 610 Q1160 614 1190 614 Q1225 615 1251 618"/>
<path d="M1239 581 L1290 578 M1276 560 L1282 628 M1262 576 L1290 578 L1258 625 L1290 620 M1284 562 L1263 624"/>
<path d="M1298 494 L1315 520 M1313 493 L1299 518"/>
<path d="M1303 533 L1320 560 M1318 533 L1304 558"/>
</g>
</svg>
</body></html>
